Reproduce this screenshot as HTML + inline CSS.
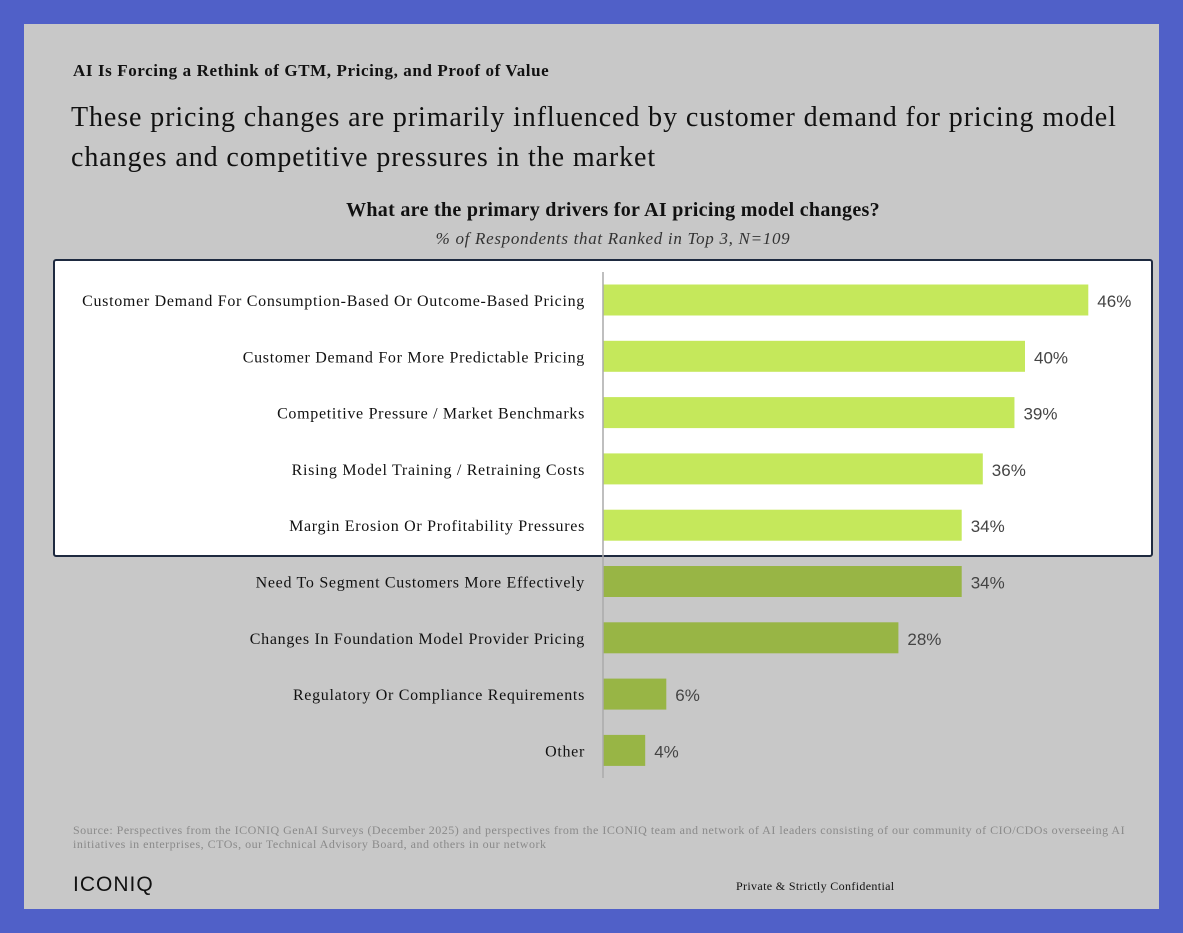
<!DOCTYPE html>
<html><head><meta charset="utf-8"><style>
body{margin:0;width:1183px;height:933px;background:#5060c8;overflow:hidden;font-family:"Liberation Serif",serif;}
#card{position:absolute;left:24px;top:24px;width:1135px;height:885px;background:#c8c8c8;}
.t{position:absolute;white-space:nowrap;color:#111;}
#box{position:absolute;left:53px;top:259px;width:1096px;height:294px;background:#fff;border:2.5px solid #1e2a40;border-radius:3px;}
</style></head><body>
<div id="card"></div>
<div class="t" style="left:73px;top:61px;font-size:17px;letter-spacing:0.6px;font-weight:bold;">AI Is Forcing a Rethink of GTM, Pricing, and Proof of Value</div>
<div class="t" style="left:71px;top:98px;font-size:28px;line-height:40px;letter-spacing:0.9px;">These pricing changes are primarily influenced by customer demand for pricing model<br>changes and competitive pressures in the market</div>
<div class="t" style="left:0;width:1226px;text-align:center;top:199px;font-size:20px;font-weight:bold;letter-spacing:0.3px;">What are the primary drivers for AI pricing model changes?</div>
<div class="t" style="left:0;width:1226px;text-align:center;top:229px;font-size:17px;font-style:italic;color:#333;letter-spacing:0.7px;">% of Respondents that Ranked in Top 3, N=109</div>
<div id="box"></div>
<svg id="chart" width="1183" height="933" style="position:absolute;left:0;top:0"></svg>
<div class="t" style="left:73px;top:823px;font-size:12px;line-height:14px;color:#8a8a8a;letter-spacing:0.5px;">Source: Perspectives from the ICONIQ GenAI Surveys (December 2025) and perspectives from the ICONIQ team and network of AI leaders consisting of our community of CIO/CDOs overseeing AI<br>initiatives in enterprises, CTOs, our Technical Advisory Board, and others in our network</div>
<div class="t" style="left:73px;top:873px;font-size:21px;font-family:'Liberation Sans',sans-serif;letter-spacing:1px;">ICONIQ</div>
<div class="t" style="left:736px;top:879px;font-size:12px;letter-spacing:0.35px;">Private &amp; Strictly Confidential</div>
<script>
const categories=["Customer Demand For Consumption-Based Or Outcome-Based Pricing","Customer Demand For More Predictable Pricing","Competitive Pressure / Market Benchmarks","Rising Model Training / Retraining Costs","Margin Erosion Or Profitability Pressures","Need To Segment Customers More Effectively","Changes In Foundation Model Provider Pricing","Regulatory Or Compliance Requirements","Other"];
const values=[46,40,39,36,34,34,28,6,4];
const highlighted=[true,true,true,true,true,false,false,false,false];
const NS="http://www.w3.org/2000/svg";
const svg=document.getElementById('chart');
const x0=603,pxPer=10.55,y0=300,step=56.3,bh=31;
const xs=v=>x0+v*pxPer, ys=i=>y0+i*step;
function mk(t,a){const e=document.createElementNS(NS,t);for(const k in a)e.setAttribute(k,a[k]);svg.appendChild(e);return e;}
values.forEach((v,i)=>{
 const r=mk('rect',{x:x0,y:ys(i)-bh/2,width:xs(v)-x0,height:bh,fill:highlighted[i]?'#c5e85b':'#98b545'});
 
 
 const l=mk('text',{x:585,y:ys(i)+6,'text-anchor':'end','font-size':16,fill:'#111','font-family':'Liberation Serif, serif','letter-spacing':0.7});
 l.textContent=categories[i];
 
 
 const p=mk('text',{x:xs(v)+9,y:ys(i)+7,'font-size':17,fill:'#444','font-family':'Liberation Sans, sans-serif'});
 p.textContent=v+'%';
 
 
});
const ax=mk('line',{x1:x0,x2:x0,y1:272,y2:778,stroke:'#aaa','stroke-width':1.5});


</script>
</body></html>
